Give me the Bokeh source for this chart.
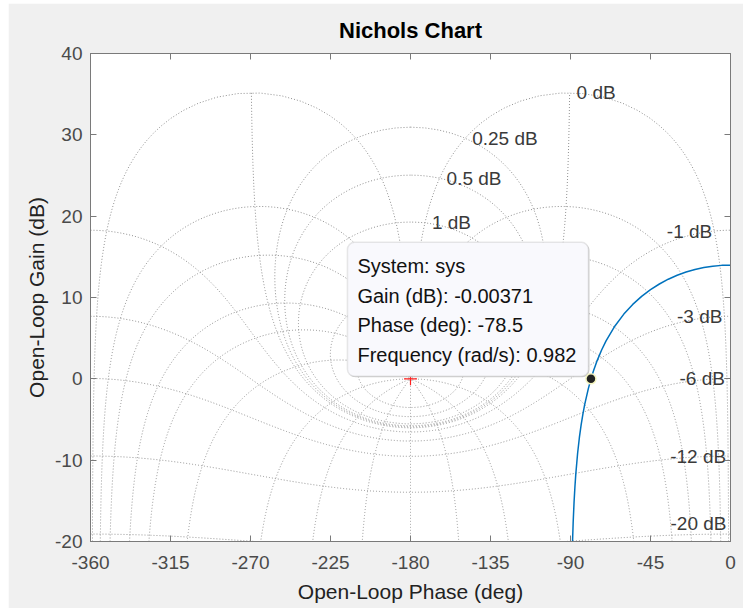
import numpy as np
from bokeh.plotting import figure
from bokeh.models import Range1d, LinearAxis, FixedTicker, BoxAnnotation, Label
from bokeh.core.properties import value
from bokeh.embed import file_html
from bokeh.resources import INLINE

# ---------------- data ----------------
closed_loop_gain_db = [6, 3, 1, 0.5, 0.25, 0, -1, -3, -6, -12, -20]
closed_loop_phase_deg = [-1, -5, -10, -20, -30, -50, -90, -120, -150, -180,
                         -210, -240, -270, -310, -330, -340, -350, -355, -359]
labeled_gain_db = [0, 0.25, 0.5, 1, -1, -3, -6, -12, -20]
label_line_phase_deg = -1   # gain labels sit where their line meets this phase line

resp_phase = [0, -5, -10, -15, -20, -25, -30, -35, -40, -45, -50, -55, -60, -65,
              -70, -72.5, -75, -77, -78.5, -80, -82, -83, -84, -85, -86, -87,
              -87.5, -88, -88.5, -88.9]
resp_gain = [13.98, 13.95, 13.85, 13.68, 13.44, 13.13, 12.73, 12.25, 11.66, 10.97,
             10.14, 9.15, 7.96, 6.50, 4.66, 3.54, 2.24, 1.02, 0.00, -1.23, -3.15,
             -4.30, -5.63, -7.21, -9.15, -11.65, -13.23, -15.16, -17.66, -20.35]

system_name = "sys"
tip_phase = -78.5
tip_gain = -0.00371
tip_freq = 0.982
critical_phase = -180
critical_gain = 0

title_text = "Nichols Chart"
x_label = "Open-Loop Phase (deg)"
y_label = "Open-Loop Gain (dB)"
x_ticks = [-360, -315, -270, -225, -180, -135, -90, -45, 0]
y_ticks = [-20, -10, 0, 10, 20, 30, 40]
x_lim = (-360, 0)
y_lim = (-20, 40)

# ---------------- layout ----------------
MT, ML = 3, 8                      # white page strip above / left of the figure
W, H = 743 - ML, 608 - MT
BL, BR, BT, BB = 82, 13, 50, 67
FW, FH = W - BL - BR, H - BT - BB
sx = FW / (x_lim[1] - x_lim[0])   # px per degree
sy = FH / (y_lim[1] - y_lim[0])   # px per dB

FONT = "Liberation Sans"
GRID_COLOR = "#8f8f8f"
AX_COLOR = "#7a7a7a"

p = figure(width=W, height=H, x_range=Range1d(*x_lim), y_range=Range1d(*y_lim),
           output_backend="svg", toolbar_location=None, title=title_text,
           min_border_left=BL, min_border_right=BR, min_border_top=BT, min_border_bottom=BB,
           background_fill_color="white", border_fill_color="#f0f0f0",
           outline_line_color=AX_COLOR, outline_line_width=1)
p.margin = (MT, 0, 0, ML)

p.title.text_font = FONT
p.title.text_font_size = "22px"
p.title.text_font_style = "bold"
p.title.text_color = "#000000"
p.title.align = "center"
p.title.standoff = 22

p.xgrid.visible = False
p.ygrid.visible = False
p.xaxis.ticker = FixedTicker(ticks=x_ticks)
p.yaxis.ticker = FixedTicker(ticks=y_ticks)
p.xaxis.major_label_overrides = {t: f"{t:g}" for t in x_ticks}
p.yaxis.major_label_overrides = {t: f"{t:g}" for t in y_ticks}
p.xaxis.axis_label = x_label
p.yaxis.axis_label = y_label

def style_axis(ax):
    ax.major_tick_in = 6
    ax.major_tick_out = 0
    ax.minor_tick_in = 0
    ax.minor_tick_out = 0
    ax.axis_line_color = AX_COLOR
    ax.major_tick_line_color = AX_COLOR
    ax.major_label_text_font = FONT
    ax.major_label_text_font_size = "19px"
    ax.major_label_text_color = "#4a4a4a"
    ax.axis_label_text_font = FONT
    ax.axis_label_text_font_size = "21px"
    ax.axis_label_text_font_style = "normal"
    ax.axis_label_text_color = "#222222"

style_axis(p.xaxis[0])
style_axis(p.yaxis[0])
p.xaxis[0].major_label_standoff = 14
p.xaxis[0].axis_label_standoff = 8
p.yaxis[0].major_label_standoff = 8
p.yaxis[0].axis_label_standoff = 4

top_ax = LinearAxis(ticker=FixedTicker(ticks=x_ticks),
                    major_label_overrides={t: "" for t in x_ticks})
right_ax = LinearAxis(ticker=FixedTicker(ticks=y_ticks),
                      major_label_overrides={t: "" for t in y_ticks})
for ax in (top_ax, right_ax):
    style_axis(ax)
    ax.major_label_text_font_size = "0px"
    ax.major_label_standoff = 0
p.add_layout(top_ax, "above")
p.add_layout(right_ax, "right")

# ---------------- Nichols grid ----------------
def gain_line(mdb):
    M = 10 ** (mdb / 20)
    if abs(M - 1) < 1e-9:
        a = np.linspace(np.radians(1), 2 * np.pi - np.radians(1), 1500)
    else:
        a = np.linspace(0, 2 * np.pi, 1500)
    T = M * np.exp(1j * a)
    G = T / (1 - T)
    ph = np.degrees(np.unwrap(np.angle(G)))
    ph = ph - 360 * np.round((ph.mean() + 180) / 360)
    return ph.tolist(), (20 * np.log10(np.abs(G))).tolist()

def phase_line(adeg):
    M = np.logspace(-2, 3, 3000)
    T = M * np.exp(1j * np.radians(adeg))
    G = T / (1 - T)
    ph = np.mod(np.degrees(np.angle(G)), 360) - 360
    return ph.tolist(), (20 * np.log10(np.abs(G))).tolist()

xs, ys = [], []
for m in closed_loop_gain_db:
    a, b = gain_line(m)
    xs.append(a); ys.append(b)
for ph in closed_loop_phase_deg:
    a, b = phase_line(ph)
    xs.append(a); ys.append(b)
p.multi_line(xs, ys, line_color=GRID_COLOR, line_width=1, line_dash="1 2")

# gain labels
lx_pos, ly_pos, lt_pos = [], [], []
lx_neg, ly_neg, lt_neg = [], [], []
y_floor = y_lim[0] + 17.6 / sy
for m in labeled_gain_db:
    T = 10 ** (m / 20) * np.exp(1j * np.radians(label_line_phase_deg))
    G = T / (1 - T)
    ph = float(np.mod(np.degrees(np.angle(G)), 360) - 360)
    g = max(float(20 * np.log10(abs(G))), y_floor)
    txt = f"{m:g} dB"
    if m >= 0:
        lx_pos.append(ph); ly_pos.append(g); lt_pos.append(txt)
    else:
        lx_neg.append(ph); ly_neg.append(g); lt_neg.append(txt)

p.text(lx_pos, ly_pos, text=lt_pos, text_align="left", text_baseline="middle",
       x_offset=7, text_font=value(FONT), text_font_size="19px", text_color="#3a3a3a")
p.text(lx_neg, ly_neg, text=lt_neg, text_align="right", text_baseline="middle",
       x_offset=-2, text_font=value(FONT), text_font_size="19px", text_color="#3a3a3a")

# ---------------- response ----------------
p.line(resp_phase, resp_gain, line_color="#0072BD", line_width=1.5)
p.scatter([critical_phase], [critical_gain], marker="cross", size=13,
          line_color="#ff2020", line_width=1.2)

# ---------------- data tip ----------------
box_w, box_h = 241, 134
box_right = tip_phase - 2.5 / sx
box_bottom = tip_gain + 2.5 / sy
box_left = box_right - box_w / sx
box_top = box_bottom + box_h / sy

shadow = BoxAnnotation(left=box_left + 1 / sx, right=box_right + 1 / sx,
                       top=box_top - 1 / sy, bottom=box_bottom - 1 / sy,
                       fill_color="#c4c4c4", fill_alpha=0.8, line_alpha=0,
                       border_radius=7)
p.add_layout(shadow)
tip_box = BoxAnnotation(left=box_left, right=box_right, top=box_top, bottom=box_bottom,
                        fill_color="#f9f9fd", fill_alpha=1.0, line_color="#b4b4b4",
                        line_width=1.5, border_radius=7)
p.add_layout(tip_box)

tip_lines = [f"System: {system_name}", f"Gain (dB): {tip_gain:g}",
             f"Phase (deg): {tip_phase:g}", f"Frequency (rad/s): {tip_freq:g}"]
for i, t in enumerate(tip_lines):
    p.add_layout(Label(x=box_left + 10 / sx, y=box_top - (24 + 29.4 * i) / sy, text=t,
                       text_font=FONT, text_font_size="20px", text_color="#111111",
                       text_align="left", text_baseline="middle"))

p.scatter([tip_phase], [tip_gain], marker="circle", size=10, fill_color="#222222",
          line_color="#f5f5c0", line_width=1.5, level="overlay")

open("out.html", "w").write(file_html(p, INLINE))
